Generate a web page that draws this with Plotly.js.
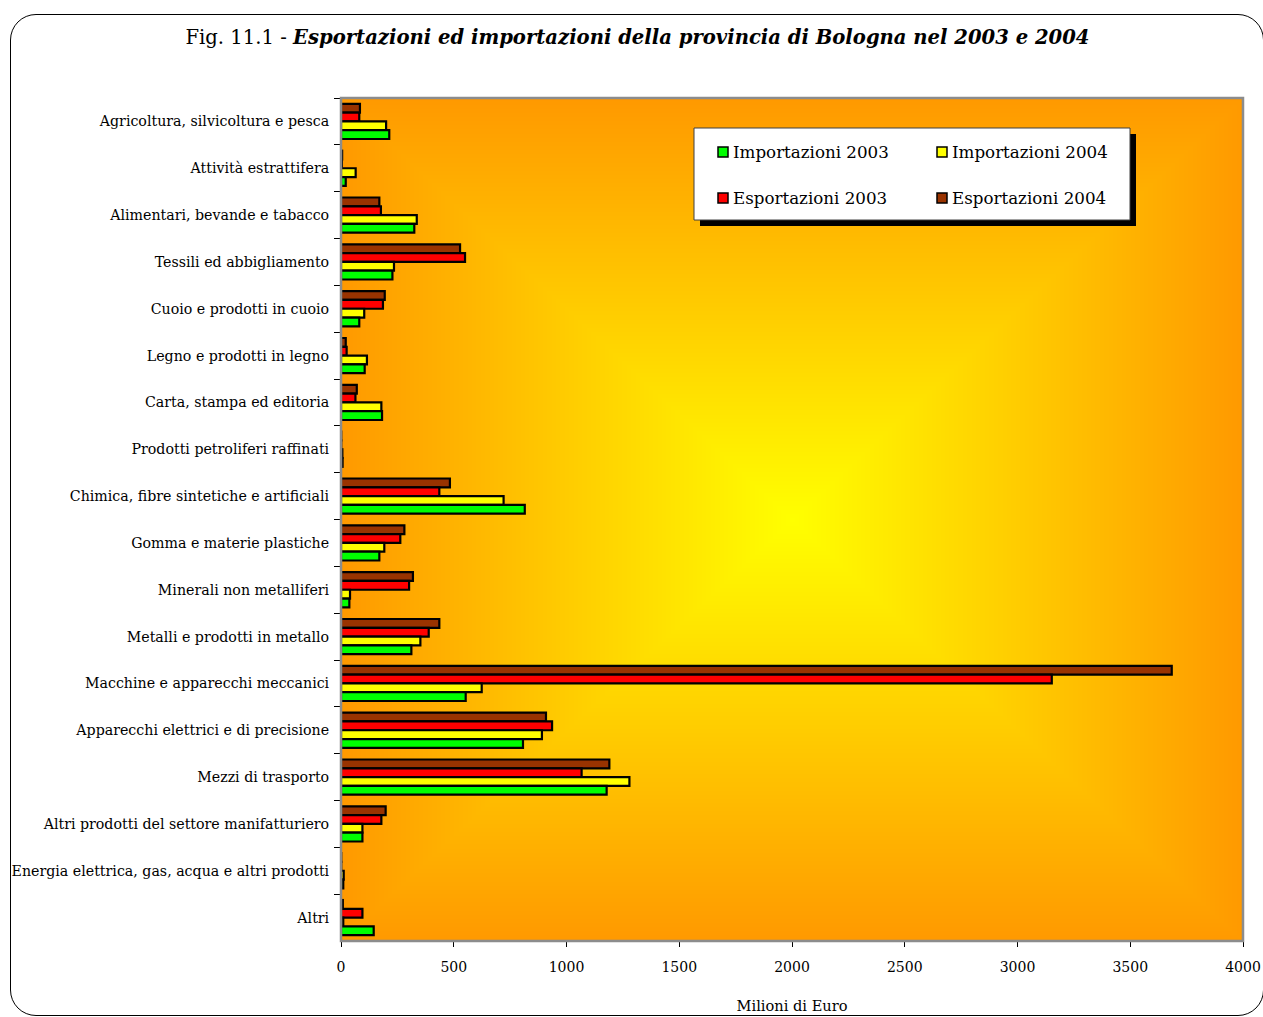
<!DOCTYPE html>
<html>
<head>
<meta charset="utf-8">
<script src="https://cdn.plot.ly/plotly-3.0.1.min.js"></script>
<style>
  html, body { margin: 0; padding: 0; background: #ffffff; }
  #wrap { position: relative; width: 1263px; height: 1017px; overflow: hidden; background: #ffffff; }
  #frame { position: absolute; left: 10px; top: 14px; width: 1254px; height: 1002px; box-sizing: border-box;
           border: 1.4px solid #000; border-radius: 26px; }
  #chart { position: absolute; left: 0; top: 0; width: 1263px; height: 1017px; }
</style>
</head>
<body>
<div id="wrap">
  <div id="frame"></div>
  <div id="chart"></div>
</div>
<script>
// ---- data ----
const categories = [
  "Agricoltura, silvicoltura e pesca",
  "Attività estrattifera",
  "Alimentari, bevande e tabacco",
  "Tessili ed abbigliamento",
  "Cuoio e prodotti in cuoio",
  "Legno e prodotti in legno",
  "Carta, stampa ed editoria",
  "Prodotti petroliferi raffinati",
  "Chimica, fibre sintetiche e artificiali",
  "Gomma e materie plastiche",
  "Minerali non metalliferi",
  "Metalli e prodotti in metallo",
  "Macchine e apparecchi meccanici",
  "Apparecchi elettrici e di precisione",
  "Mezzi di trasporto",
  "Altri prodotti del settore manifatturiero",
  "Energia elettrica, gas, acqua e altri prodotti",
  "Altri"
];
const importazioni2003 = [214, 21, 325, 228, 81, 105, 182, 7, 815, 170, 37, 312, 553, 807, 1178, 95, 10, 145];
const importazioni2004 = [200, 65, 336, 235, 103, 115, 179, 6, 721, 192, 40, 352, 624, 891, 1279, 95, 12, 10];
const esportazioni2003 = [81, 4, 177, 550, 186, 25, 64, 1, 436, 263, 302, 389, 3152, 936, 1067, 179, 1, 95];
const esportazioni2004 = [84, 5, 170, 528, 194, 21, 70, 1, 483, 281, 319, 436, 3684, 909, 1190, 198, 1, 8];
const seriesNames = ["Importazioni 2003", "Importazioni 2004", "Esportazioni 2003", "Esportazioni 2004"];
const xTickValues = [0, 500, 1000, 1500, 2000, 2500, 3000, 3500, 4000];

// ---- styling ----
const colors = { imp2003: "#00ff00", imp2004: "#ffff00", esp2003: "#ff0000", esp2004: "#993300" };
const FONT = "DejaVu Serif, Liberation Serif, serif";

// plot area in pixels
const W = 1263, H = 1017;
const M = { l: 341, r: 20, t: 98, b: 76 };
const PW = W - M.l - M.r, PH = H - M.t - M.b;
const PX = px => (px - M.l) / PW;
const PY = py => (H - M.b - py) / PH;

// rectangular "from centre" gradient background
function gradientURL() {
  const c = document.createElement("canvas");
  c.width = PW; c.height = PH;
  const ctx = c.getContext("2d");
  const img = ctx.createImageData(PW, PH);
  const cx = PW / 2, cy = PH / 2;
  for (let y = 0; y < PH; y++) {
    for (let x = 0; x < PW; x++) {
      const t = Math.min(1, Math.max(Math.abs(x - cx) / cx, Math.abs(y - cy) / cy));
      const g = Math.round(255 - t * (255 - 153));
      const i = (y * PW + x) * 4;
      img.data[i] = 255; img.data[i + 1] = g; img.data[i + 2] = 0; img.data[i + 3] = 255;
    }
  }
  ctx.putImageData(img, 0, 0);
  return c.toDataURL("image/png");
}

function barTrace(name, values, color) {
  return {
    type: "bar", orientation: "h", name: name,
    y: categories, x: values,
    marker: { color: color, line: { color: "#000000", width: 2.2 } },
    showlegend: false, hoverinfo: "x+name"
  };
}

// order: top bar in each group first (axis reversed)
const data = [
  barTrace(seriesNames[3], esportazioni2004, colors.esp2004),
  barTrace(seriesNames[2], esportazioni2003, colors.esp2003),
  barTrace(seriesNames[1], importazioni2004, colors.imp2004),
  barTrace(seriesNames[0], importazioni2003, colors.imp2003)
];

// manual legend (box + shadow + swatches + labels)
const shapes = [
  { type: "rect", xref: "paper", yref: "paper", x0: 0, x1: 1, y0: 0, y1: 1,
    line: { color: "#8c8c8c", width: 2.5 }, layer: "above" },
  { type: "rect", xref: "paper", yref: "paper", x0: PX(700), x1: PX(1136), y0: PY(226), y1: PY(134),
    fillcolor: "#000000", line: { width: 0 }, layer: "above" },
  { type: "rect", xref: "paper", yref: "paper", x0: PX(694), x1: PX(1130), y0: PY(220), y1: PY(128),
    fillcolor: "#ffffff", line: { color: "#404040", width: 1 }, layer: "above" }
];
const legendItems = [
  { name: seriesNames[0], color: colors.imp2003, x: 718, y: 152 },
  { name: seriesNames[1], color: colors.imp2004, x: 937, y: 152 },
  { name: seriesNames[2], color: colors.esp2003, x: 718, y: 198 },
  { name: seriesNames[3], color: colors.esp2004, x: 937, y: 198 }
];
const annotations = [];
legendItems.forEach(it => {
  shapes.push({ type: "rect", xref: "paper", yref: "paper",
    x0: PX(it.x), x1: PX(it.x + 10), y0: PY(it.y + 5), y1: PY(it.y - 5),
    fillcolor: it.color, line: { color: "#000000", width: 1.5 }, layer: "above" });
  annotations.push({ xref: "paper", yref: "paper", x: PX(it.x + 13), y: PY(it.y),
    xanchor: "left", yanchor: "middle", showarrow: false, text: it.name,
    font: { family: FONT, size: 16.7, color: "#000000" } });
});

const layout = {
  width: W, height: H,
  margin: M,
  paper_bgcolor: "rgba(0,0,0,0)",
  plot_bgcolor: "rgba(0,0,0,0)",
  font: { family: FONT, color: "#000000", size: 14.2 },
  title: {
    text: "Fig. 11.1 - <b><i>Esportazioni ed importazioni della provincia di Bologna nel 2003 e 2004</i></b>",
    font: { family: FONT, size: 19.6, color: "#000000" },
    xref: "container", x: 637.5 / W, xanchor: "center",
    yref: "container", y: 1 - 37 / H, yanchor: "middle"
  },
  barmode: "group",
  bargap: 0.25,
  bargroupgap: 0,
  xaxis: {
    range: [0, 4000], tickvals: xTickValues, ticktext: xTickValues.map(String),
    showgrid: false, zeroline: false,
    showline: true, linecolor: "#000000", linewidth: 1,
    ticks: "outside", ticklen: 5, tickcolor: "#000000",
    tickfont: { family: FONT, size: 14 },
    ticklabelstandoff: 8,
    title: { text: "Milioni di Euro", font: { family: FONT, size: 14.6 }, standoff: 26 },
    fixedrange: true
  },
  yaxis: {
    autorange: "reversed", type: "category",
    showgrid: false, zeroline: false,
    showline: true, linecolor: "#000000", linewidth: 1,
    ticks: "outside", ticklen: 6, tickcolor: "#000000", tickson: "boundaries",
    tickfont: { family: FONT, size: 14.2 },
    ticklabelstandoff: 8,
    fixedrange: true
  },
  images: [{
    source: gradientURL(), xref: "paper", yref: "paper",
    x: 0, y: 1, sizex: 1, sizey: 1, xanchor: "left", yanchor: "top",
    sizing: "stretch", layer: "below"
  }],
  shapes: shapes,
  annotations: annotations,
  showlegend: false
};

Plotly.newPlot("chart", data, layout, { displayModeBar: false, staticPlot: true });
</script>
</body>
</html>
